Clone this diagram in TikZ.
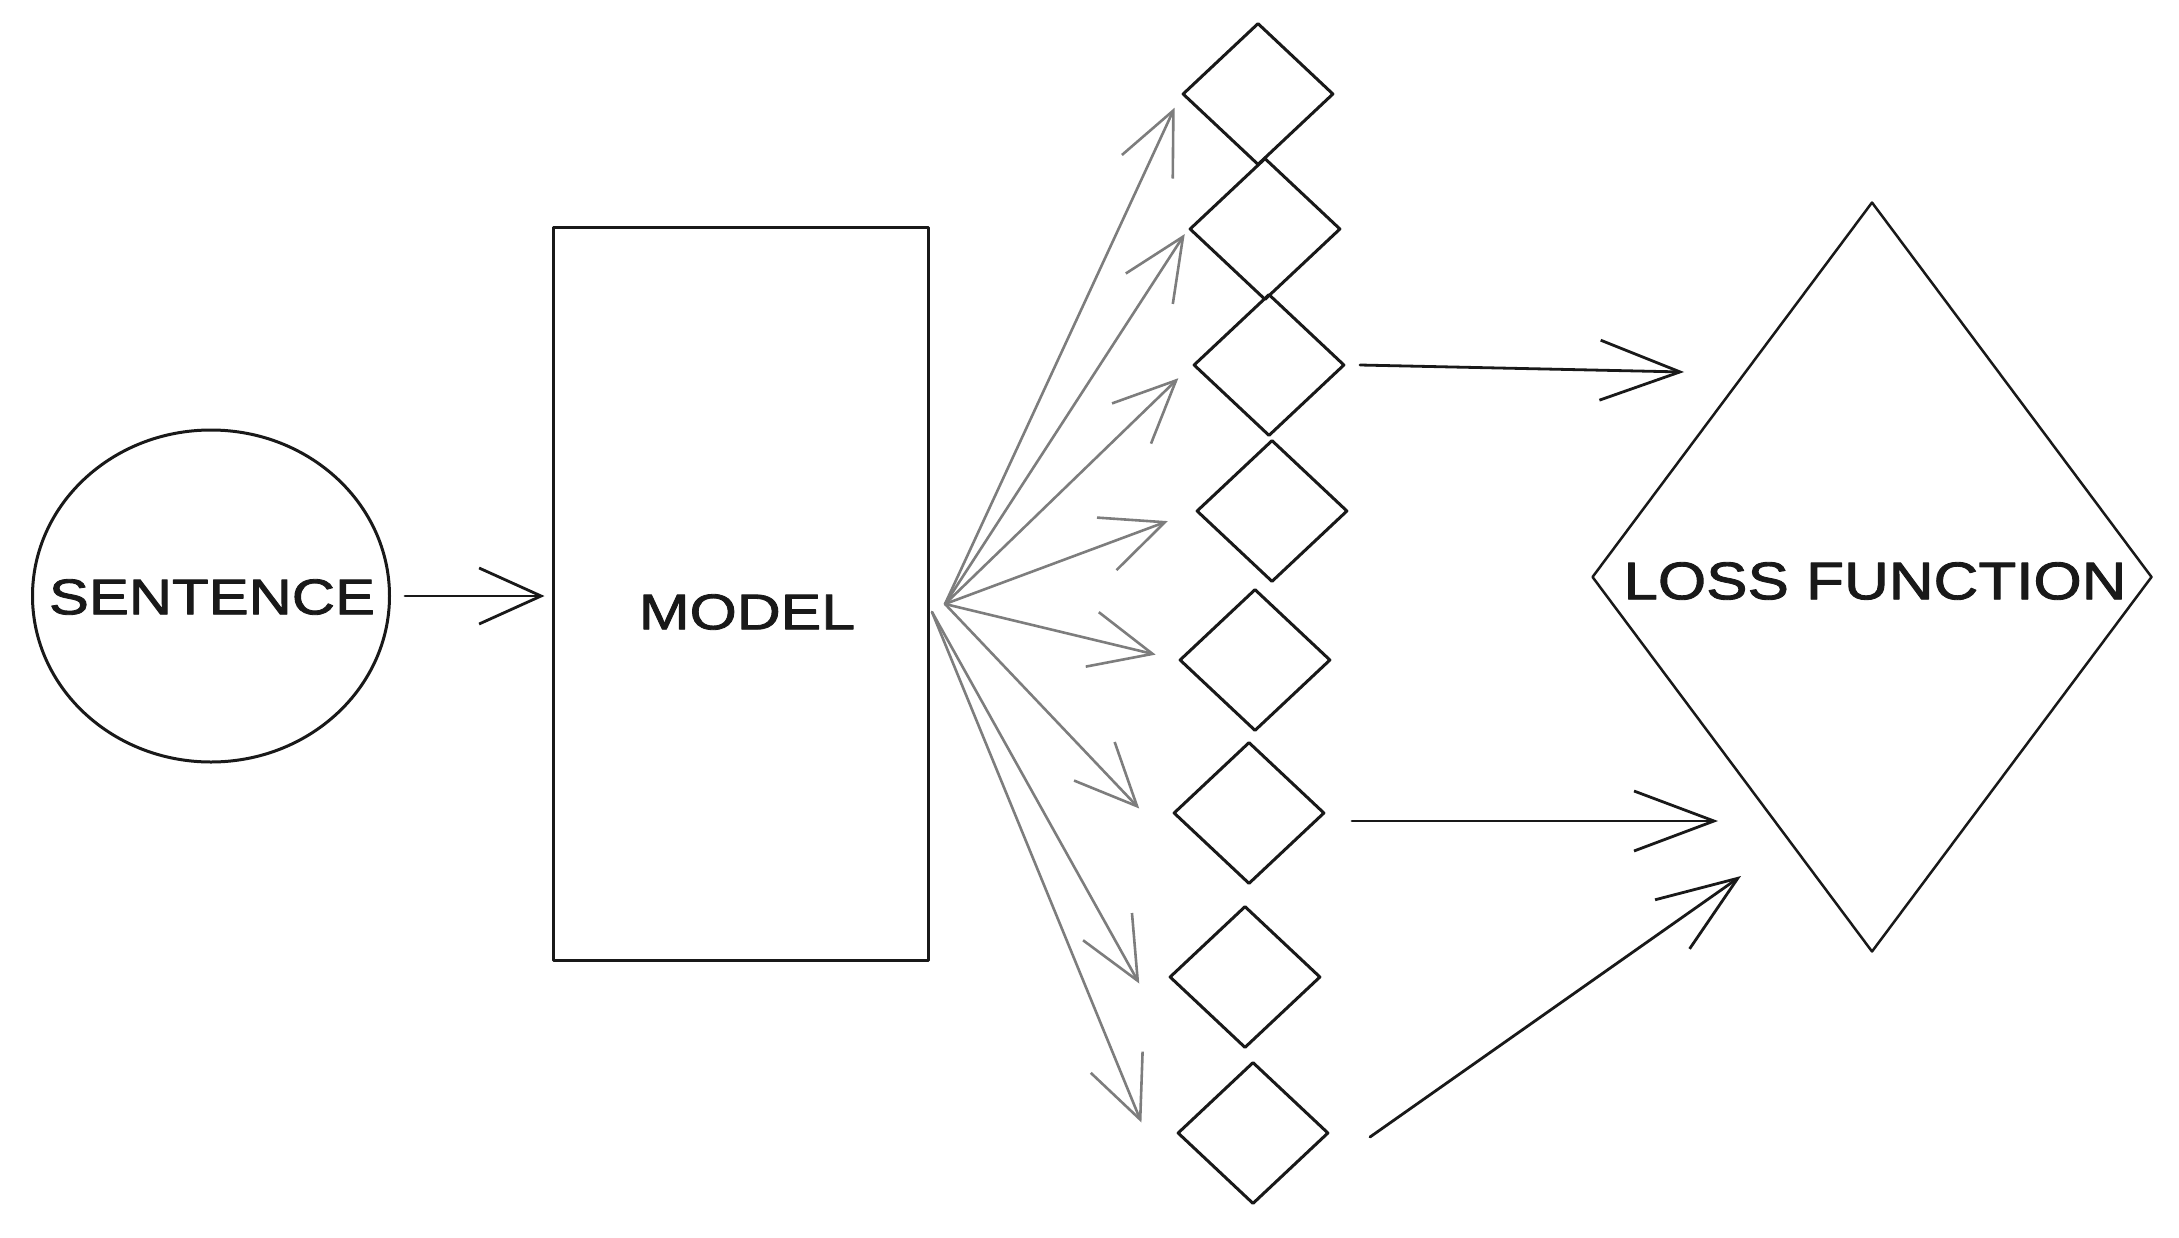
\documentclass[tikz,border=0pt]{standalone}
\usepackage{fontspec}
\setmainfont{Liberation Sans}
\newfontfamily\handfont[FakeBold=1.6]{Liberation Sans}
\usepackage{graphicx}
\usetikzlibrary{shapes.geometric,arrows.meta}
\definecolor{ink}{RGB}{25,25,25}
\definecolor{fanc}{RGB}{125,125,125}
\begin{document}
\begin{tikzpicture}[x=1pt,y=-1pt,
  line join=round, line cap=round,
  shp/.style={draw=ink, line width=3pt, inner sep=0pt},
  smalld/.style={shp, diamond, minimum width=151pt, minimum height=142pt},
  blk/.style={draw=ink, line width=2.8pt, -{Straight Barb[length=62pt,width=56pt]}},
  bigblk/.style={draw=ink, line width=2.8pt, -{Straight Barb[length=80pt,width=60pt]}},
  gry/.style={draw=fanc, line width=2.6pt, -{Straight Barb[length=62pt,width=56pt]}},
  lbl/.style={inner sep=0pt, text=ink, font=\handfont}
]
\useasboundingbox (0,0) rectangle (2179,1237);
% sentence
\node[shp, ellipse, minimum width=357pt, minimum height=332pt] (sent) at (211,596) {};
\node[lbl] (senttxt) at (212,597) {\resizebox{326pt}{35pt}{SENTENCE}};
% model
\node[shp, rectangle, minimum width=375pt, minimum height=733pt] (model) at (740.5,593.5) {};
\node[lbl] (modeltxt) at (747,612) {\resizebox{216pt}{35pt}{MODEL}};
% small diamonds
\node[smalld] (d1) at (1258,94) {};
\node[smalld] (d2) at (1265,229) {};
\node[smalld] (d3) at (1269,365) {};
\node[smalld] (d4) at (1272,511) {};
\node[smalld] (d5) at (1255,660) {};
\node[smalld] (d6) at (1249,813) {};
\node[smalld] (d7) at (1245,977) {};
\node[smalld] (d8) at (1253,1133) {};
% loss function
\node[shp, diamond, line width=2.5pt, minimum width=560pt, minimum height=750pt] (loss) at (1872,577) {};
\node[lbl] (losstxt) at (1875,581) {\resizebox{503pt}{37pt}{LOSS FUNCTION}};
% sentence -> model
\draw[blk, shorten <=14pt, shorten >=7pt] (sent.east) -- (sent.east -| model.west);
% fan
\coordinate (fo) at (945,604);
\coordinate (fb) at (932,612);
\draw[gry, shorten >=15pt] (fo) -- (d1.west);
\draw[gry, shorten >=6pt] (fo) -- (d2.west);
\draw[gry, shorten >=19pt] (fo) -- (d3.west);
\draw[gry, shorten >=29pt] (fo) -- (d4.west);
\draw[gry, shorten >=23pt] (fo) -- (d5.west);
\draw[gry, shorten >=20pt] (fo) -- ([xshift=-19pt,yshift=-10pt]d6.west);
\draw[gry, shorten >=20pt] (fb) -- ([xshift=-19pt,yshift=-24pt]d7.west);
\draw[gry, shorten >=20pt] (fb) -- ([xshift=-27pt,yshift=-8pt]d8.west);
% to loss
\coordinate (s1) at ([xshift=14pt]d3.east);
\coordinate (t1) at (1684,372);
\draw[bigblk] (s1) -- (t1);
\coordinate (s2) at ([xshift=26pt,yshift=-8pt]d6.east);
\coordinate (t2) at (1718,821);
\draw[bigblk] (s2) -- (t2);
\coordinate (s3) at ([xshift=40pt,yshift=-4pt]d8.east);
\coordinate (t3) at (1741,876);
\draw[bigblk] (s3) -- (t3);
\end{tikzpicture}
\end{document}
